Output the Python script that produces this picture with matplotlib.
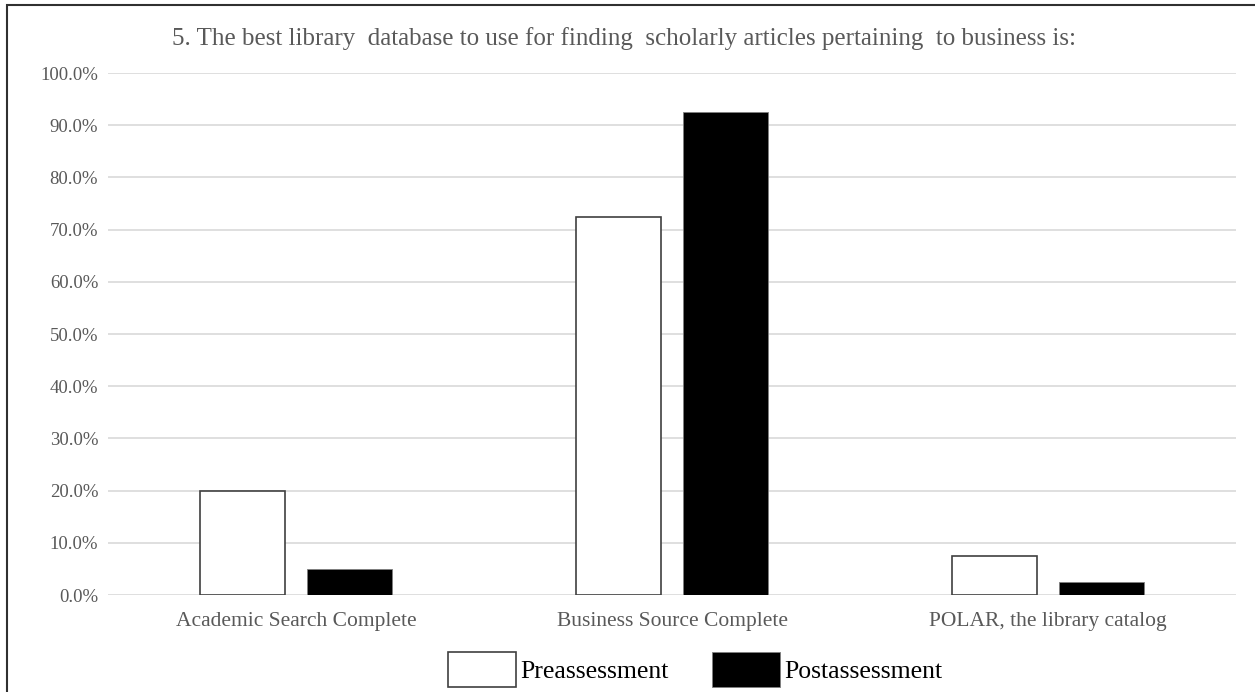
import matplotlib.pyplot as plt
from matplotlib.patches import Rectangle
from matplotlib.ticker import PercentFormatter
import numpy as np

plt.rcParams['font.family'] = ['Liberation Serif', 'DejaVu Serif']

# datos
categories = ['Academic Search Complete', 'Business Source Complete', 'POLAR, the library catalog']
pre = [20.0, 72.5, 7.5]
post = [5.0, 92.5, 2.5]
series_names = ['Preassessment', 'Postassessment']
title = '5. The best library  database to use for finding  scholarly articles pertaining  to business is:'

GRAY = '#595959'

fig = plt.figure(figsize=(12.55, 6.92), dpi=100)
ax = fig.add_axes([0.086, 0.140, 0.899, 0.7545])

x = np.arange(len(categories))
w = 0.225
off = 0.1425
ax.bar(x - off, pre, w, color='white', edgecolor='#404040', linewidth=1.2,
       label=series_names[0], zorder=3)
ax.bar(x + off, post, w, color='black', edgecolor='#7f7f7f', linewidth=0.6,
       label=series_names[1], zorder=3)

ax.set_xlim(-0.5, 2.5)
ax.set_ylim(0, 100)
ax.set_yticks(np.arange(0, 101, 10))
ax.yaxis.set_major_formatter(PercentFormatter(decimals=1))
ax.set_xticks(x)
ax.set_xticklabels(categories)
ax.grid(axis='y', color='#d9d9d9', linewidth=1.2, zorder=0)
for s in ax.spines.values():
    s.set_visible(False)
ax.tick_params(axis='both', length=0, colors=GRAY)
ax.tick_params(axis='y', pad=7, labelsize=13.5)
ax.tick_params(axis='x', pad=12, labelsize=15.5)

fig.text(0.4976, 0.944, title, ha='center', va='center', fontsize=18, color=GRAY)

leg = fig.legend(loc='center', bbox_to_anchor=(0.5538, 0.0325), ncol=2, frameon=False,
                 fontsize=18.5, handlelength=2.65, handleheight=1.72,
                 handletextpad=0.15, columnspacing=1.7)
for t in leg.get_texts():
    t.set_color('black')

# marco de la figura (sin borde derecho ni inferior visibles)
fig.patches.append(Rectangle((0.0056, -0.05), 1.05, 1.043, transform=fig.transFigure,
                             fill=False, edgecolor='#303030', linewidth=1.5))

fig.savefig('out.png', dpi=100)
